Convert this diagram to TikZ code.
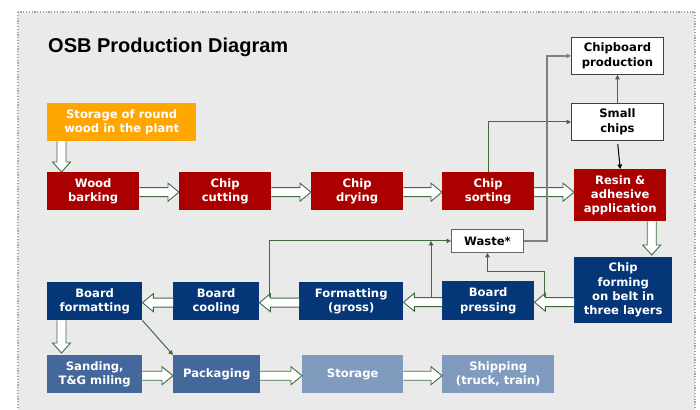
\documentclass[tikz,border=0pt]{standalone}
\usepackage{fontspec}
\setmainfont{DejaVu Sans}
\newfontfamily\titlefont{Liberation Sans}
\usetikzlibrary{arrows.meta,calc}
\definecolor{bg}{RGB}{234,234,234}
\definecolor{osbred}{RGB}{170,0,0}
\definecolor{osbblue}{RGB}{5,54,120}
\definecolor{midblue}{RGB}{69,104,156}
\definecolor{lightblue}{RGB}{128,155,190}
\definecolor{orng}{RGB}{255,166,0}
\definecolor{lgreen}{RGB}{62,108,62}
\definecolor{tipgreen}{RGB}{0,62,0}
\definecolor{bordergray}{RGB}{165,165,165}
\tikzset{
  box/.style={anchor=north west, inner sep=0pt, align=center, text=white,
    font=\bfseries\fontsize{11.6}{14.3}\selectfont},
  redbox/.style={box, fill=osbred},
  bluebox/.style={box, fill=osbblue},
  midbox/.style={box, fill=midblue},
  lightbox/.style={box, fill=lightblue},
  whitebox/.style={box, fill=white, text=black, draw=black!75, line width=0.9pt},
  hollow/.style={fill=white, draw=lgreen, line width=0.9pt, line join=miter},
  thin/.style={draw=lgreen, line width=1pt, -{Triangle[length=4.5pt,width=4.5pt]}, color=lgreen},
}
\newcommand{\hollowR}[2]{%
  \filldraw[hollow] let \p1=(#1), \p2=(#2) in
    ({\x1},{\y1+4.5pt}) -- ({\x2-11pt},{\y1+4.5pt}) -- ({\x2-11pt},{\y1+9pt}) --
    ({\x2},{\y1}) -- ({\x2-11pt},{\y1-9pt}) -- ({\x2-11pt},{\y1-4.5pt}) -- ({\x1},{\y1-4.5pt});}
\newcommand{\hollowL}[2]{%
  \filldraw[hollow] let \p1=(#1), \p2=(#2) in
    ({\x1},{\y1+4.5pt}) -- ({\x2+11pt},{\y1+4.5pt}) -- ({\x2+11pt},{\y1+9pt}) --
    ({\x2},{\y1}) -- ({\x2+11pt},{\y1-9pt}) -- ({\x2+11pt},{\y1-4.5pt}) -- ({\x1},{\y1-4.5pt});}
\newcommand{\hollowD}[2]{%
  \filldraw[hollow] let \p1=(#1), \p2=(#2) in
    ({\x1-4.5pt},{\y1}) -- ({\x1-4.5pt},{\y2+10pt}) -- ({\x1-9pt},{\y2+10pt}) --
    ({\x1},{\y2}) -- ({\x1+9pt},{\y2+10pt}) -- ({\x1+4.5pt},{\y2+10pt}) -- ({\x1+4.5pt},{\y1});}
\begin{document}
\begin{tikzpicture}[x=1pt,y=1pt]
\useasboundingbox (0,0) rectangle (700,409);
\fill[white] (0,0) rectangle (700,409);
\draw[fill=bg, draw=bordergray, line width=1.2pt, dash pattern=on 1.2pt off 1.6pt] (18,397) rectangle (695,-10);

\node[anchor=base west, inner sep=0pt, font=\titlefont\bfseries\fontsize{20}{24}\selectfont] (title) at (48,356) {OSB Production Diagram};

% nodes
\node[box, fill=orng, minimum width=149pt, minimum height=38pt] (storage) at (47,306) {Storage of round\\wood in the plant};
\node[redbox, minimum width=92pt, minimum height=38pt] (wood) at (47,237) {Wood\\barking};
\node[redbox, minimum width=92pt, minimum height=38pt] (cut) at (179,237) {Chip\\cutting};
\node[redbox, minimum width=92pt, minimum height=38pt] (dry) at (311,237) {Chip\\drying};
\node[redbox, minimum width=92pt, minimum height=38pt] (sort) at (442,237) {Chip\\sorting};
\node[redbox, minimum width=92pt, minimum height=52pt] (resin) at (574,240) {Resin \&\\adhesive\\application};
\node[whitebox, minimum width=92pt, minimum height=37pt] (chipb) at (571,372) {Chipboard\\production};
\node[whitebox, minimum width=92pt, minimum height=37pt] (small) at (571,306) {Small\\chips};
\node[whitebox, draw=black!60, minimum width=72pt, minimum height=23pt] (waste) at (451,180) {Waste*};
\node[bluebox, minimum width=98pt, minimum height=66pt] (forming) at (574,152) {Chip\\forming\\on belt in\\three layers};
\node[bluebox, minimum width=92pt, minimum height=39pt] (press) at (442,128) {Board\\pressing};
\node[bluebox, minimum width=104pt, minimum height=38pt] (formg) at (299,127) {Formatting\\(gross)};
\node[bluebox, minimum width=86pt, minimum height=38pt] (cool) at (173,127) {Board\\cooling};
\node[bluebox, minimum width=95pt, minimum height=38pt] (bform) at (47,127) {Board\\formatting};
\node[midbox, minimum width=95pt, minimum height=38pt] (sand) at (47,54) {Sanding,\\T\&G miling};
\node[midbox, minimum width=87pt, minimum height=38pt] (pack) at (173,54) {Packaging};
\node[lightbox, minimum width=101pt, minimum height=38pt] (stor) at (302,54) {Storage};
\node[lightbox, minimum width=112pt, minimum height=38pt] (ship) at (442,54) {Shipping\\(truck, train)};

% hollow arrows
\hollowD{$(storage.south west)+(14.5,0)$}{wood.north}
\hollowR{$(wood.east)+(0,-1)$}{cut.west}
\hollowR{$(cut.east)+(0,-1)$}{dry.west}
\hollowR{$(dry.east)+(0,-1)$}{sort.west}
\hollowR{$(sort.east)+(0,-1)$}{resin.west}
\hollowD{$(resin.south west)+(77.7,0)$}{$(forming.north)+(0,2)$}
\hollowL{$(forming.west |- press.east)+(0,-1.5)$}{press.east}
\hollowL{$(press.west)+(0,-1.5)$}{formg.east}
\hollowL{$(formg.west)+(0,-1.5)$}{cool.east}
\hollowL{$(cool.west)+(0,-1.5)$}{bform.east}
\hollowD{$(bform.south west)+(14.5,0)$}{$(sand.north)+(0,2)$}
\hollowR{$(sand.east)+(0,-1.5)$}{pack.west}
\hollowR{$(pack.east)+(0,-1.5)$}{stor.west}
\hollowR{$(stor.east)+(0,-1.5)$}{ship.west}

% thin connectors
\coordinate (c1) at (269,111.5);
\coordinate (c2) at (431,111.5);
\coordinate (c3) at (544,111.5);
\draw[thin] (sort.north) |- (small.west);
\draw[thin, draw=black, color=black, shorten <=3pt] (small.south) -- (resin.north);
\draw[thin] (small.north) -- (chipb.south);
\draw[thin] (c1) |- (waste.west);
\draw[thin] (c2) -- (c2 |- waste.west);
\draw[thin] (c3) -- ($(c3)+(0,25.5)$) -| (waste.south);
\draw[thin] (bform.south east) -- (pack.north west);
\draw[draw=black!50, line width=1.4pt, -{Triangle[length=4.5pt,width=4.5pt]}, color=black!50]
  (waste.east) -| ($(chipb.west)+(-24,0)$) -- (chipb.west);
\end{tikzpicture}
\end{document}
